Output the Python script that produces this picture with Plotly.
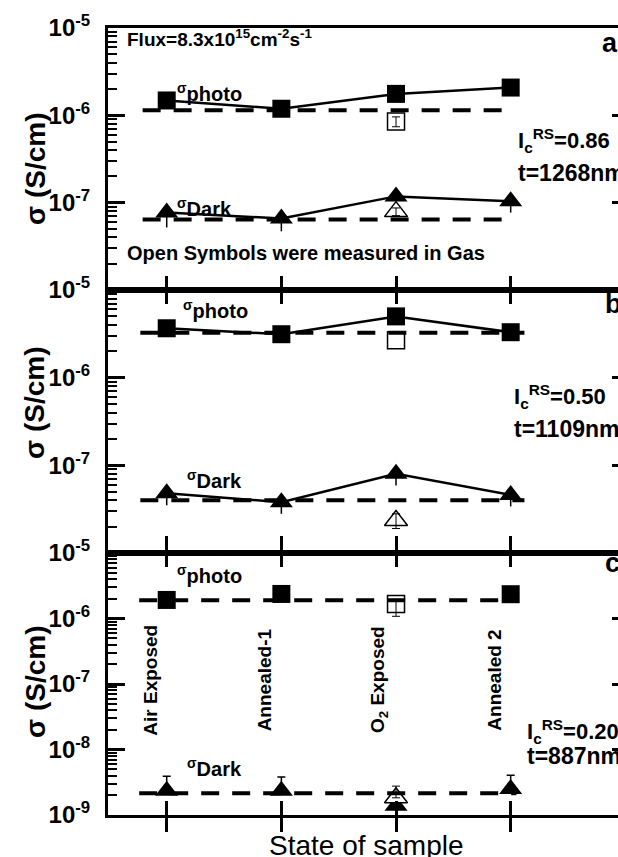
import plotly.graph_objects as go

# ---------------- data ----------------
categories = ["Air Exposed", "Annealed-1", "O<sub>2</sub> Exposed", "Annealed 2"]
x_pos = list(range(len(categories)))

# filled symbols (measured in vacuum), S/cm
photo_a = [1.48e-6, 1.19e-6, 1.76e-6, 2.08e-6]
dark_a = [7.7e-8, 6.6e-8, 1.18e-7, 1.04e-7]
dark_a_errminus = [2.5e-8, 1.9e-8, 0.0, 2.7e-8]

photo_b = [3.66e-6, 3.13e-6, 5.0e-6, 3.3e-6]
dark_b = [4.8e-8, 3.8e-8, 8.0e-8, 4.6e-8]
dark_b_errminus = [1.3e-8, 1.0e-8, 2.1e-8, 1.2e-8]

photo_c = [1.92e-6, 2.37e-6, None, 2.35e-6]
dark_c = [2.35e-9, 2.35e-9, 1.39e-9, 2.5e-9]
dark_c_errplus = [1.55e-9, 1.45e-9, 0.0, 1.56e-9]

# open symbols (measured in gas), only at the O2-exposed state
gas_x = [2]
photo_gas = [8.5e-7, 2.67e-6, 1.66e-6]
photo_gas_errplus = [1.1e-7, 0.0, 0.3e-6]
photo_gas_errminus = [1.1e-7, 0.0, 0.58e-6]
dark_gas = [7.9e-8, 2.35e-8, 1.83e-9]
dark_gas_errplus = [0.8e-8, 0.45e-8, 0.93e-9]
dark_gas_errminus = [0.8e-8, 0.45e-8, 0.0]

# dashed reference levels
dash_photo = [1.14e-6, 3.26e-6, 1.9e-6]
dash_dark = [6.4e-8, 4.0e-8, 2.14e-9]
dash_x = [[-0.21, 2.93], [-0.23, 3.12], [-0.24, 3.05]]

ic_rs = ["0.86", "0.50", "0.20"]
thickness = ["1268", "1109", "887"]
panel_letters = ["a", "b", "c"]
y_ranges = [[-8, -5], [-8, -5], [-9, -5]]

photo_all = [photo_a, photo_b, photo_c]
dark_all = [dark_a, dark_b, dark_c]
dark_minus_all = [dark_a_errminus, dark_b_errminus, [0.0] * 4]
dark_plus_all = [[0.0] * 4, [0.0] * 4, dark_c_errplus]

# ---------------- layout geometry ----------------
FONT = "Liberation Sans, Arial, sans-serif"
W, H = 618, 857
L, R, T, B = 108, 0, 28, 42
PW, PH = W - L - R, H - T - B


def px_x(p):
    return (p - L) / PW


def px_y(p):
    return (H - B - p) / PH


panel_px = [(28, 290), (290, 553), (553, 815)]
domains = [[px_y(b), px_y(t)] for t, b in panel_px]
x_range = [-0.512, 3.936]

fig = go.Figure()
DASH = "18px,13px"


def err_trace(xs, ys, plus, minus, xa, ya, width, thick):
    """Error bars only (drawn on top), skipping points without error."""
    keep = [k for k in range(len(ys)) if ys[k] is not None and (plus[k] or minus[k])]
    if not keep:
        return
    fig.add_trace(go.Scatter(x=[xs[k] for k in keep], y=[ys[k] for k in keep], mode="markers",
                             marker=dict(size=1, opacity=0),
                             error_y=dict(type="data", symmetric=False,
                                          array=[plus[k] for k in keep],
                                          arrayminus=[minus[k] for k in keep],
                                          color="black", thickness=thick, width=width),
                             xaxis=xa, yaxis=ya, showlegend=False, hoverinfo="skip"))


for i in range(3):
    sx = "" if i == 0 else str(i + 1)
    xa, ya = "x" + sx, "y" + sx
    yr = "y" + str(i + 4)          # right-hand overlay axis (same scale)
    xd = "x4" if i == 2 else xa    # bottom overlay x axis (same scale)
    # dashed levels
    fig.add_trace(go.Scatter(x=dash_x[i], y=[dash_photo[i]] * 2, mode="lines",
                             line=dict(color="black", width=4, dash=DASH),
                             xaxis=xa, yaxis=yr, showlegend=False, hoverinfo="skip"))
    fig.add_trace(go.Scatter(x=dash_x[i], y=[dash_dark[i]] * 2, mode="lines",
                             line=dict(color="black", width=4, dash=DASH),
                             xaxis=xd, yaxis=ya, showlegend=False, hoverinfo="skip"))
    mode = "lines+markers" if i < 2 else "markers"
    # error bars of filled triangles (under the markers)
    err_trace(x_pos, dark_all[i], dark_plus_all[i], dark_minus_all[i], xa, ya,
              0 if i < 2 else 4, 1.5)
    # filled squares (photo)
    fig.add_trace(go.Scatter(x=x_pos, y=photo_all[i], mode=mode,
                             line=dict(color="black", width=2.5),
                             marker=dict(symbol="square", size=18, color="black"),
                             xaxis=xa, yaxis=ya, showlegend=False))
    # filled triangles (dark)
    fig.add_trace(go.Scatter(x=x_pos, y=dark_all[i], mode=mode,
                             line=dict(color="black", width=2.5),
                             marker=dict(symbol="triangle-up", size=20, color="black"),
                             xaxis=xa, yaxis=ya, showlegend=False))
    # open symbols
    fig.add_trace(go.Scatter(x=gas_x, y=[photo_gas[i]], mode="markers",
                             marker=dict(symbol="square", size=17, color="white",
                                         line=dict(color="black", width=1.5)),
                             xaxis=xa, yaxis=ya, showlegend=False))
    fig.add_trace(go.Scatter(x=gas_x, y=[dark_gas[i]], mode="markers",
                             marker=dict(symbol="triangle-up", size=20, color="white",
                                         line=dict(color="black", width=1.5)),
                             xaxis=xa, yaxis=ya, showlegend=False))
    # error bars of open symbols drawn on top
    err_trace(gas_x * 2, [photo_gas[i], dark_gas[i]],
              [photo_gas_errplus[i], dark_gas_errplus[i]],
              [photo_gas_errminus[i], dark_gas_errminus[i]], xa, ya, 4, 1)

layout = dict(width=W, height=H, margin=dict(l=L, r=R, t=T, b=B),
              paper_bgcolor="white", plot_bgcolor="white", showlegend=False,
              font=dict(family=FONT, color="black"))

xbase = dict(range=x_range, domain=[0, 1], tickvals=x_pos, showticklabels=False,
             showgrid=False, zeroline=False, showline=True, linecolor="black", linewidth=3,
             ticklen=14, tickwidth=2.5, tickcolor="black")
layout["xaxis"] = dict(xbase, anchor="y", ticks="inside", mirror=True)
layout["xaxis2"] = dict(xbase, anchor="y2", ticks="inside", mirror="ticks")
layout["xaxis3"] = dict(xbase, anchor="y3", ticks="outside", mirror="ticks")
layout["xaxis4"] = dict(xbase, anchor="y3", ticks="inside", mirror="ticks", overlaying="x3")

for i in range(3):
    lo, hi = y_ranges[i]
    major = [10.0 ** e for e in range(hi, lo - 1, -1)]
    labels = ["10<sup>%d</sup>" % e for e in range(hi, lo - 1, -1)]
    if i < 2:
        labels[-1] = ""
    minor_vals = [m * 10.0 ** e for e in range(lo, hi) for m in range(2, 10)]
    key = "yaxis" if i == 0 else "yaxis%d" % (i + 1)
    layout[key] = dict(domain=domains[i], type="log", range=[lo, hi],
                       anchor="x" if i == 0 else "x%d" % (i + 1),
                       showline=True, linecolor="black", linewidth=3, mirror=False,
                       ticks="inside", ticklen=17, tickwidth=2.5, tickcolor="black",
                       tickvals=major, ticktext=labels, ticklabelstandoff=10,
                       tickfont=dict(family=FONT, size=24, color="black", weight="bold"),
                       minor=dict(tickmode="array", tickvals=minor_vals, ticks="inside",
                                  ticklen=9, tickwidth=2, tickcolor="black", showgrid=False),
                       showgrid=False, zeroline=False)
    layout["yaxis%d" % (i + 4)] = dict(type="log", range=[lo, hi], side="right",
                                        overlaying="y" if i == 0 else "y%d" % (i + 1),
                                        anchor="x" if i == 0 else "x%d" % (i + 1),
                                        showline=False, showgrid=False, zeroline=False,
                                        ticks="inside", ticklen=6, tickwidth=2.5,
                                        tickcolor="black", tickvals=major[1:-1],
                                        showticklabels=False)

ann = []


def add_text(text, x, y, size, bold=True, xanchor="left", yanchor="middle", angle=0):
    ann.append(dict(text=text, x=px_x(x), y=px_y(y), xref="paper", yref="paper",
                    xanchor=xanchor, yanchor=yanchor, showarrow=False, textangle=angle,
                    font=dict(family=FONT, size=size, color="black",
                              weight="bold" if bold else "normal")))


# y titles
for yc in (169, 403, 682):
    add_text("σ (S/cm)", 35, yc, 28, xanchor="center", angle=-90)

# panel letters
for letter, yc, xl in zip(panel_letters, (43, 304, 563), (600, 603, 603)):
    add_text(letter, xl, yc, 27)

# sigma labels
photo_lbl = [(175, 93), (181, 309), (175, 574)]
dark_lbl = [(175, 207), (185, 479), (185, 767)]
for (x, y) in photo_lbl:
    add_text("<sup>σ</sup>photo", x, y, 20)
for (x, y) in dark_lbl:
    add_text("<sup>σ</sup>Dark", x, y, 20)

# Ic and thickness
ic_pos = [(516, 140, 173), (512, 396, 429), (525, 731, 756)]
for (x, y1, y2), ic, t in zip(ic_pos, ic_rs, thickness):
    add_text("I<sub>c</sub><sup>RS</sup>=" + ic, x, y1, 22)
    add_text("t=" + t + "nm", x, y2, 23)

add_text("Flux=8.3x10<sup>15</sup>cm<sup>-2</sup>s<sup>-1</sup>", 125, 38, 19)
add_text("Open Symbols were measured in Gas", 125, 253, 20)

# category labels inside bottom panel
for k, cat in enumerate(categories):
    ann.append(dict(text=cat, x=x_pos[k], y=px_y(680), xref="x3", yref="paper",
                    xshift=-17, xanchor="center", yanchor="middle", textangle=-90,
                    showarrow=False,
                    font=dict(family=FONT, size=19, color="black", weight="bold")))

add_text("State of sample", 366, 845, 28, bold=False, xanchor="center")

layout["annotations"] = ann
fig.update_layout(**layout)
fig.write_html("out.html")
